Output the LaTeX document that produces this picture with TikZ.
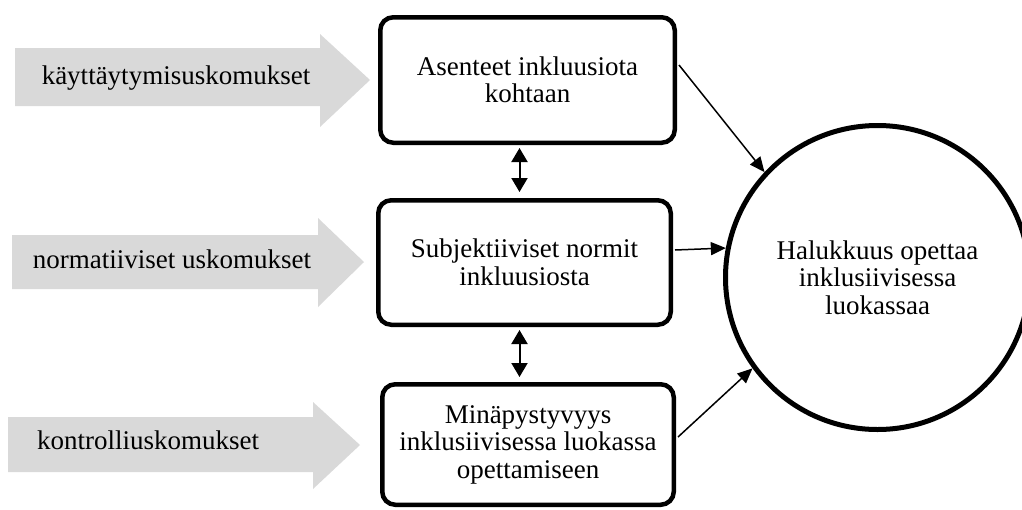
\documentclass[tikz,border=0pt]{standalone}
\usepackage{fontspec}
\setmainfont{Liberation Serif}
\usetikzlibrary{arrows.meta,calc}

\definecolor{arrowgray}{HTML}{D9D9D9}

\tikzset{
  txt/.style={font=\fontsize{27}{27.5}\selectfont},
  lbl/.style={txt, inner sep=0pt},
  box/.style={draw, line width=4.5pt, rounded corners=13pt, align=center,
              txt, inner sep=0pt},
  goal/.style={draw, circle, line width=5pt, align=center, minimum size=304pt,
               txt, inner sep=0pt},
  link/.style={line width=1.5pt, -{Triangle[length=15pt,width=13pt]}},
  both/.style={line width=2pt, {Triangle[length=14pt,width=16pt]}-{Triangle[length=14pt,width=16pt]}},
  broad/.style={fill=arrowgray, draw=none}
}

\begin{document}
\begin{tikzpicture}[x=1pt,y=-1pt]
  \useasboundingbox (0,0) rectangle (1022,509);

  % broad grey input arrows
  \fill[broad] (15,48) -- (320,48) -- (320,34) -- (370,80) -- (320,127) -- (320,106) -- (15,106) -- cycle;
  \fill[broad] (12,235) -- (318,235) -- (318,218) -- (364,262) -- (318,307) -- (318,289) -- (12,289) -- cycle;
  \fill[broad] (8,417) -- (313,417) -- (313,402) -- (360,445) -- (313,489) -- (313,472) -- (8,472) -- cycle;

  \node[lbl, anchor=base] (t1) at (176,84) {käyttäytymisuskomukset};
  \node[lbl, anchor=base] (t2) at (172,268) {normatiiviset uskomukset};
  \node[lbl, anchor=base west] (t3) at (37,449) {kontrolliuskomukset};

  % construct boxes
  \node[box, minimum width=294.5pt, minimum height=125.5pt] (b1) at (527.5,80)
    {Asenteet inkluusiota\\kohtaan};
  \node[box, minimum width=292.5pt, minimum height=124.5pt] (b2) at (524.5,262.5)
    {Subjektiiviset normit\\inkluusiosta};
  \node[box, minimum width=291.5pt, minimum height=120.5pt] (b3) at (528,444.5)
    {Minäpystyvyys\\inklusiivisessa luokassa\\opettamiseen};

  % outcome
  \node[goal] (c) at (877.5,277.5)
    {Halukkuus opettaa\\inklusiivisessa\\luokassaa};

  % correlations between constructs
  \coordinate (d1) at ([xshift=-8pt,yshift=-3pt]b1.south);
  \coordinate (d2) at (d1 |- b2.north);
  \draw[both] (d1) -- ([yshift=6pt]d2);
  \coordinate (e1) at ([xshift=-5pt,yshift=-3pt]b2.south);
  \coordinate (e2) at (e1 |- b3.north);
  \draw[both] (e1) -- ([yshift=5pt]e2);

  % paths to the outcome
  \draw[link] ([xshift=2pt,yshift=15pt]b1.east) -- (c.137);
  \draw[link] ([xshift=2pt,yshift=12.5pt]b2.east) -- (c.169.6);
  \draw[link] ([xshift=2pt,yshift=7.5pt]b3.east) -- (c.216);
\end{tikzpicture}
\end{document}
